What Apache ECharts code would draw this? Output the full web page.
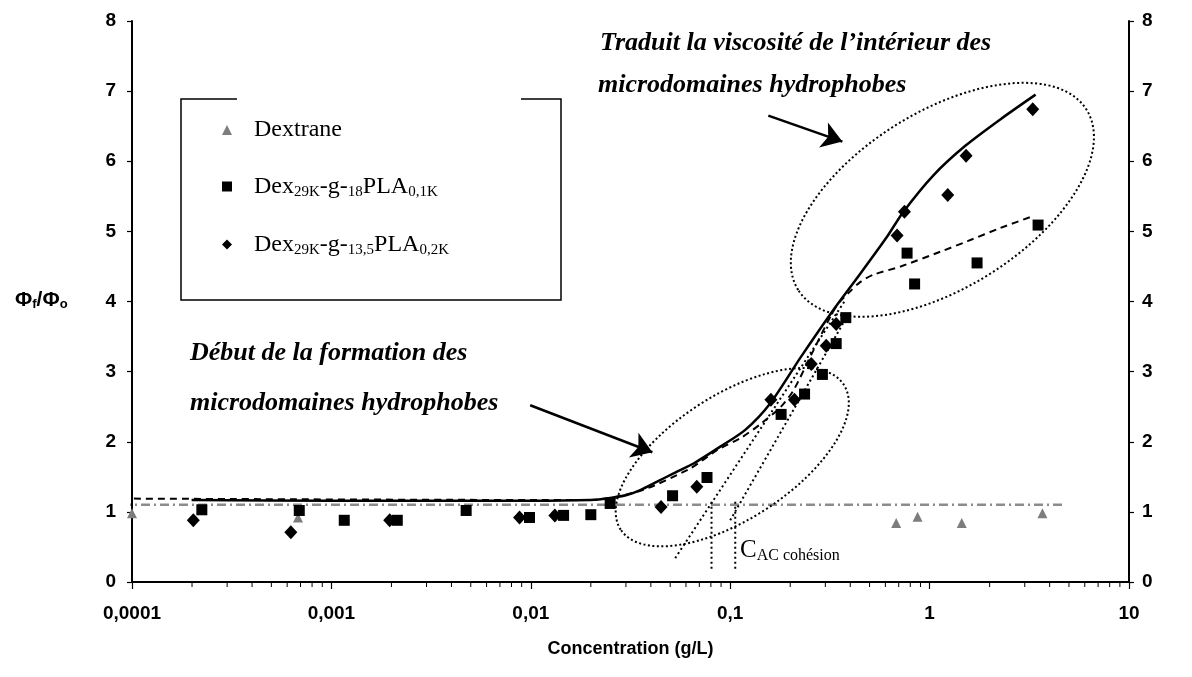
<!DOCTYPE html>
<html>
<head>
<meta charset="utf-8">
<script src="https://cdn.jsdelivr.net/npm/echarts@6/dist/echarts.min.js"></script>
<style>
html, body { margin: 0; padding: 0; background: #fff; }
#chart { width: 1192px; height: 677px; }
</style>
</head>
<body>
<div id="chart"></div>
<script>
// ---- measured fluorescence ratio Φf/Φo versus concentration (g/L) ----
const dextraneConc  = [0.0001, 0.00068, 0.68, 0.87, 1.45, 3.68];
const dextraneRatio = [0.98, 0.92, 0.84, 0.93, 0.84, 0.98];

const dex18Conc  = [0.000224, 0.00069, 0.00116, 0.00214, 0.00474, 0.00985, 0.0146, 0.020, 0.025,
                    0.0514, 0.0765, 0.180, 0.236, 0.290, 0.340, 0.380, 0.771, 0.841, 1.73, 3.50];
const dex18Ratio = [1.03, 1.02, 0.88, 0.88, 1.02, 0.92, 0.95, 0.96, 1.12,
                    1.23, 1.49, 2.39, 2.68, 2.96, 3.40, 3.77, 4.69, 4.25, 4.55, 5.09];

const dex135Conc  = [0.000203, 0.000626, 0.00196, 0.00878, 0.0132, 0.045, 0.068, 0.160, 0.210,
                     0.255, 0.303, 0.340, 0.687, 0.748, 1.233, 1.524, 3.29];
const dex135Ratio = [0.88, 0.71, 0.88, 0.92, 0.95, 1.07, 1.36, 2.60, 2.60,
                     3.11, 3.37, 3.68, 4.94, 5.28, 5.52, 6.08, 6.74];

// trend curves
const solidConc  = [0.000199, 0.001, 0.01, 0.02, 0.0241, 0.0303, 0.0354, 0.043, 0.052, 0.0655, 0.0892,
                    0.119, 0.159, 0.225, 0.329, 0.45, 0.614, 0.739, 1.045, 1.51, 2.27, 3.40];
const solidRatio = [1.17, 1.16, 1.16, 1.17, 1.19, 1.24, 1.31, 1.43, 1.55, 1.69, 1.93,
                    2.17, 2.55, 3.20, 3.88, 4.40, 4.93, 5.28, 5.80, 6.22, 6.60, 6.95];

const dashConc  = [0.0000891, 0.01, 0.02, 0.0354, 0.0631, 0.0859, 0.1124, 0.1416, 0.1783, 0.2074,
                   0.261, 0.340, 0.401, 0.450, 0.52, 0.716, 1.133, 1.55, 2.27, 3.32];
const dashRatio = [1.19, 1.17, 1.17, 1.30, 1.62, 1.88, 2.05, 2.25, 2.49, 2.73,
                   3.30, 3.93, 4.15, 4.28, 4.38, 4.50, 4.71, 4.86, 5.05, 5.22];

const baselineConc  = [0.0000891, 4.69];
const baselineRatio = [1.10, 1.10];

// tangents used to locate the critical concentrations
const tangentAConc  = [0.053, 0.378];
const tangentARatio = [0.34, 4.02];
const tangentBConc  = [0.100, 0.3825];
const tangentBRatio = [0.88, 3.77];

// vertical drop lines at the two critical concentrations
const cacConc  = [0.0806, 0.106];
const cacRange = [0.19, 1.17];

// axis tick labels
const xTickLabels = ['0,0001', '0,001', '0,01', '0,1', '1', '10'];
const yTicks = [0, 1, 2, 3, 4, 5, 6, 7, 8];

// annotation arrows (data coordinates: start, tip)
const arrowUpper = [[0.1553, 6.65], [0.3652, 6.28]];
const arrowLower = [[0.00993, 2.52], [0.0407, 1.85]];

// annotation ellipses: centre in data units
const ellipseLowCentre  = [0.1024, 1.78];
const ellipseHighCentre = [1.159, 5.45];

// ---------------------------------------------------------------------
const xy = (xs, ys) => xs.map((x, i) => [x, ys[i]]);

const minorTicks = [];
for (let e = -4; e <= 0; e++) {
  for (let m = 2; m <= 9; m++) minorTicks.push([m * Math.pow(10, e), 0]);
}

const SANS = 'Liberation Sans';
const SERIF = 'Liberation Serif';

const legendText = {
  'Dextrane': '{b|Dextrane}',
  'Dex29K-g-18PLA0,1K': '{b|Dex}{s|29K}{b|-g-}{s|18}{b|PLA}{s|0,1K}',
  'Dex29K-g-13,5PLA0,2K': '{b|Dex}{s|29K}{b|-g-}{s|13,5}{b|PLA}{s|0,2K}'
};

const axisLabelStyle = { fontFamily: SANS, fontWeight: 'bold', fontSize: 19, color: '#000' };

const dottedLine = { color: '#000', width: 2, type: [2, 3] };

const series = [
  {
    name: 'Dextrane', type: 'scatter', symbol: 'triangle', symbolSize: [10, 10],
    itemStyle: { color: '#7d7d7d', opacity: 1 }, z: 6,
    data: xy(dextraneConc, dextraneRatio)
  },
  {
    name: 'Dex29K-g-18PLA0,1K', type: 'scatter', symbol: 'rect', symbolSize: [11, 11],
    itemStyle: { color: '#000', opacity: 1 }, z: 6,
    data: xy(dex18Conc, dex18Ratio)
  },
  {
    name: 'Dex29K-g-13,5PLA0,2K', type: 'scatter', symbol: 'diamond', symbolSize: [13, 14],
    itemStyle: { color: '#000', opacity: 1 }, z: 6,
    data: xy(dex135Conc, dex135Ratio)
  },
  {
    type: 'line', showSymbol: false, smooth: 0.25, clip: false, z: 4,
    lineStyle: { color: '#000', width: 2.5 },
    data: xy(solidConc, solidRatio)
  },
  {
    type: 'line', showSymbol: false, smooth: 0.25, clip: false, z: 4,
    lineStyle: { color: '#000', width: 2, type: [7, 5] },
    data: xy(dashConc, dashRatio)
  },
  {
    type: 'line', showSymbol: false, clip: false, z: 3,
    lineStyle: { color: '#8c8c8c', width: 2.5, type: [9, 4, 2, 4] },
    data: xy(baselineConc, baselineRatio)
  },
  {
    type: 'line', showSymbol: false, z: 3, lineStyle: dottedLine,
    data: xy(tangentAConc, tangentARatio)
  },
  {
    type: 'line', showSymbol: false, z: 3, lineStyle: dottedLine,
    data: xy(tangentBConc, tangentBRatio)
  }
];

cacConc.forEach(c => {
  series.push({
    type: 'line', showSymbol: false, z: 3, lineStyle: dottedLine,
    data: cacRange.map(r => [c, r])
  });
});

// arrows pointing at the two regions
series.push({
  type: 'line', data: [], silent: true,
  markLine: {
    silent: true, symbol: ['none', 'arrow'], symbolSize: 20,
    lineStyle: { color: '#000', width: 2.5, type: 'solid' },
    label: { show: false }, animation: false,
    data: [
      [{ coord: arrowUpper[0] }, { coord: arrowUpper[1] }],
      [{ coord: arrowLower[0] }, { coord: arrowLower[1] }]
    ]
  }
});

// minor ticks of the logarithmic axis (2..9 in each decade)
series.push({
  type: 'custom', silent: true, clip: false, z: 8,
  data: minorTicks, encode: { x: 0, y: 1 },
  renderItem: (params, api) => {
    const p = api.coord([api.value(0), 0]);
    return {
      type: 'line',
      shape: { x1: p[0], y1: p[1], x2: p[0], y2: p[1] + 5 },
      style: { stroke: '#000', lineWidth: 1 }
    };
  }
});

const chart = echarts.init(document.getElementById('chart'));

chart.setOption({
  animation: false,
  backgroundColor: '#fff',
  grid: { left: 132, right: 63, top: 21, bottom: 95 },
  xAxis: {
    type: 'log', logBase: 10, min: 0.0001, max: 10,
    name: 'Concentration (g/L)', nameLocation: 'middle', nameGap: 58,
    nameTextStyle: { fontFamily: SANS, fontWeight: 'bold', fontSize: 18, color: '#000' },
    axisLine: { show: true, onZero: false, lineStyle: { color: '#000', width: 2 } },
    axisTick: { show: true, inside: false, length: 7, lineStyle: { color: '#000', width: 1.2 } },
    axisLabel: Object.assign({
      margin: 22,
      formatter: v => xTickLabels[Math.round(Math.log10(v)) + 4]
    }, axisLabelStyle),
    splitLine: { show: false }
  },
  yAxis: [
    {
      type: 'value', min: 0, max: 8, interval: 1, position: 'left',
      axisLine: { show: true, lineStyle: { color: '#000', width: 2 } },
      axisTick: { show: true, length: 5, lineStyle: { color: '#000', width: 1.2 } },
      axisLabel: Object.assign({ margin: 16, formatter: v => String(yTicks[v]) }, axisLabelStyle),
      splitLine: { show: false }
    },
    {
      type: 'value', min: 0, max: 8, interval: 1, position: 'right',
      axisLine: { show: true, lineStyle: { color: '#000', width: 2 } },
      axisTick: { show: true, length: 5, lineStyle: { color: '#000', width: 1.2 } },
      axisLabel: Object.assign({ margin: 13, formatter: v => String(yTicks[v]) }, axisLabelStyle),
      splitLine: { show: false }
    }
  ],
  legend: {
    data: ['Dextrane', 'Dex29K-g-18PLA0,1K', 'Dex29K-g-13,5PLA0,2K'],
    orient: 'vertical', left: 217, top: 113,
    itemWidth: 10, itemHeight: 10, itemGap: 31,
    selectedMode: false,
    formatter: name => legendText[name],
    textStyle: {
      padding: [0, 0, 0, 17],
      rich: {
        b: { fontFamily: SERIF, fontSize: 24, color: '#000', lineHeight: 42 },
        s: { fontFamily: SERIF, fontSize: 15, color: '#000', lineHeight: 30, padding: [12, 0, 0, 0] }
      }
    }
  },
  series: series
});

// ---- annotations drawn on top of the plot ----
function toPx(pt) { return chart.convertToPixel({ xAxisIndex: 0, yAxisIndex: 0 }, pt); }

const eLow = toPx(ellipseLowCentre);
const eHigh = toPx(ellipseHighCentre);
const ellipseStyle = { fill: 'none', stroke: '#000', lineWidth: 2, lineDash: [2, 2.5] };
const annotationFont = { fontFamily: SERIF, fontStyle: 'italic', fontWeight: 'bold', fontSize: 26, fill: '#000' };

chart.setOption({
  graphic: [
    // legend frame, open at the top
    {
      type: 'polyline', silent: true, z: 10,
      shape: { points: [[237, 99], [181, 99], [181, 300], [561, 300], [561, 99], [521, 99]] },
      style: { stroke: '#000', lineWidth: 1.5, fill: 'none' }
    },
    {
      type: 'ellipse', silent: true, z: 10,
      x: eLow[0], y: eLow[1], rotation: 33 * Math.PI / 180,
      shape: { cx: 0, cy: 0, rx: 133, ry: 62 },
      style: ellipseStyle
    },
    {
      type: 'ellipse', silent: true, z: 10,
      x: eHigh[0], y: eHigh[1], rotation: 32 * Math.PI / 180,
      shape: { cx: 0, cy: 0, rx: 170, ry: 88 },
      style: ellipseStyle
    },
    {
      type: 'text', silent: true, z: 10, left: 600, top: 30,
      style: Object.assign({ text: 'Traduit la viscosité de l’intérieur des' }, annotationFont)
    },
    {
      type: 'text', silent: true, z: 10, left: 598, top: 72,
      style: Object.assign({ text: 'microdomaines hydrophobes' }, annotationFont)
    },
    {
      type: 'text', silent: true, z: 10, left: 190, top: 340,
      style: Object.assign({ text: 'Début de la formation des' }, annotationFont)
    },
    {
      type: 'text', silent: true, z: 10, left: 190, top: 390,
      style: Object.assign({ text: 'microdomaines hydrophobes' }, annotationFont)
    },
    {
      type: 'text', silent: true, z: 10, left: 740, top: 536,
      style: {
        text: '{c|C}{s|AC cohésion}',
        rich: {
          c: { fontFamily: SERIF, fontSize: 25, fill: '#000', lineHeight: 30 },
          s: { fontFamily: SERIF, fontSize: 16, fill: '#000', lineHeight: 20, padding: [12, 0, 0, 0] }
        }
      }
    },
    {
      type: 'text', silent: true, z: 10, left: 15, top: 289,
      style: {
        text: '{a|Φ}{s|f}{a|/Φ}{s|o}',
        rich: {
          a: { fontFamily: SANS, fontWeight: 'bold', fontSize: 21, fill: '#000', lineHeight: 28 },
          s: { fontFamily: SANS, fontWeight: 'bold', fontSize: 13, fill: '#000', lineHeight: 18, padding: [9, 0, 0, 0] }
        }
      }
    }
  ]
});
</script>
</body>
</html>
